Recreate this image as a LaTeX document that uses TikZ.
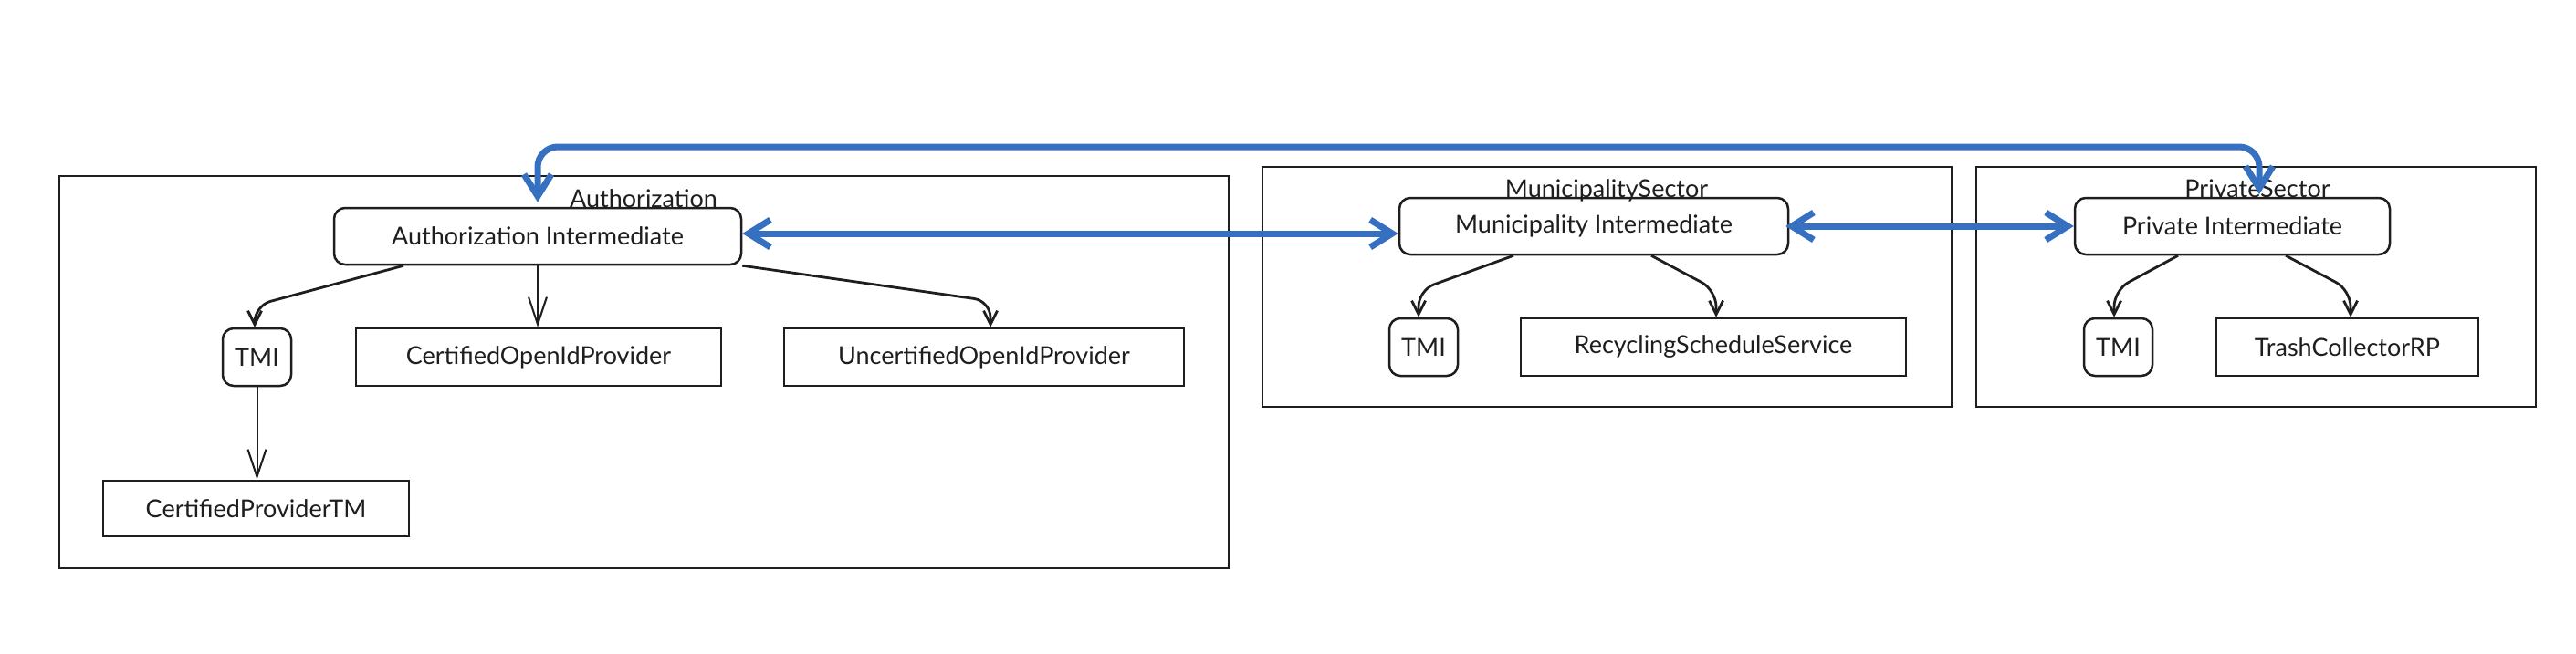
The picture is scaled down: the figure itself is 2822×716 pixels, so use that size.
\documentclass[tikz,border=0pt]{standalone}
\usepackage{fontspec}
\setmainfont{Lato}
\usetikzlibrary{arrows.meta}
\definecolor{ink}{HTML}{1E1E1E}
\definecolor{blu}{HTML}{3670C0}
\begin{document}
\begin{tikzpicture}[x=1pt,y=-1pt,
  txt/.style={font=\fontsize{27}{32}\selectfont, text=ink},
  grp/.style={draw=ink, line width=2.5pt, inner sep=0pt},
  rnode/.style={txt, draw=ink, fill=white, line width=2.5pt, rounded corners=12pt, inner sep=0pt},
  snode/.style={txt, draw=ink, fill=white, line width=2.5pt, inner sep=0pt},
  lbl/.style={txt, inner sep=0pt},
  barr/.style={draw=ink, line width=2.8pt, rounded corners=18pt, -{Straight Barb[length=15pt,width=15pt]}},
  barrl/.style={draw=ink, line width=2pt, -{Straight Barb[length=30pt,width=20pt]}},
  blarr/.style={draw=blu, line width=7pt, line cap=round, rounded corners=22pt,
    {Straight Barb[length=24pt,width=30pt]}-{Straight Barb[length=24pt,width=30pt]}}
]
\useasboundingbox (0,0) rectangle (2822,716);

% groups
\node[grp, minimum width=1281pt, minimum height=430pt] (authg) at (705.5,408) {};
\node[grp, minimum width=755pt, minimum height=263pt] (munig) at (1760.5,314.5) {};
\node[grp, minimum width=613pt, minimum height=263pt] (privg) at (2471.5,314.5) {};

% Authorization
\node[rnode, minimum width=446pt, minimum height=62pt] (AI) at (589,259) {Authorization Intermediate};
\node[lbl, anchor=base] (authl) at (705,227) {Authorization};
\node[rnode, minimum width=75pt, minimum height=63pt] (ATMI) at (281.5,391.5) {TMI};
\node[snode, minimum width=400pt, minimum height=63pt] (COP) at (590,391.5) {CertifiedOpenIdProvider};
\node[snode, minimum width=438pt, minimum height=63pt] (UCOP) at (1078,391.5) {UncertifiedOpenIdProvider};
\node[snode, minimum width=335pt, minimum height=61pt] (CPTM) at (280.5,557.5) {CertifiedProviderTM};

% Municipality
\node[rnode, minimum width=426pt, minimum height=62pt] (MI) at (1746,248) {Municipality Intermediate};
\node[lbl, anchor=base] (munil) at (1760,216) {MunicipalitySector};
\node[rnode, minimum width=75pt, minimum height=63pt] (MTMI) at (1559.5,380.5) {TMI};
\node[snode, minimum width=422pt, minimum height=63pt] (RSS) at (1877,380.5) {RecyclingScheduleService};

% Private
\node[rnode, minimum width=345pt, minimum height=62pt] (PI) at (2445.5,248) {Private Intermediate};
\node[lbl, anchor=base] (privl) at (2473,216) {PrivateSector};
\node[rnode, minimum width=75pt, minimum height=63pt] (PTMI) at (2320.5,380.5) {TMI};
\node[snode, minimum width=287pt, minimum height=63pt] (TCRP) at (2571.5,380.5) {TrashCollectorRP};

% knee points of the bent connectors
\coordinate (k1) at (279,335);
\coordinate (k2) at (1085,330);
\coordinate (k3) at (1554,318);
\coordinate (k4) at (1880,318);
\coordinate (k5) at (2316,318);
\coordinate (k6) at (2575,318);

% black arrows
\draw[barr] ([xshift=-147pt]AI.south) -- (k1) -- (k1 |- ATMI.north);
\draw[barrl] (AI.south) -- (AI.south |- COP.north);
\draw[barr] (AI.south east) -- (k2) -- (k2 |- UCOP.north);
\draw[barrl] (ATMI.south) -- (ATMI.south |- CPTM.north);

\draw[barr] ([xshift=-88pt]MI.south) -- (k3) -- (k3 |- MTMI.north);
\draw[barr] ([xshift=63pt]MI.south) -- (k4) -- (k4 |- RSS.north);

\draw[barr] ([xshift=-59.5pt]PI.south) -- (k5) -- (k5 |- PTMI.north);
\draw[barr] ([xshift=58.5pt]PI.south) -- (k6) -- (k6 |- TCRP.north);

% blue arrows
\coordinate (c1) at (589,161);
\coordinate (c2) at (2475,161);
\coordinate (pin) at (2475,213);
\draw[blarr] ([yshift=3pt]AI.east) -- ([yshift=3pt]MI.west |- AI.east);
\draw[blarr] ([xshift=-4pt]MI.east) -- (PI.west);
\draw[blarr] ([yshift=5pt]AI.north) -- (c1) -- (c2) -- (pin);
\end{tikzpicture}
\end{document}
